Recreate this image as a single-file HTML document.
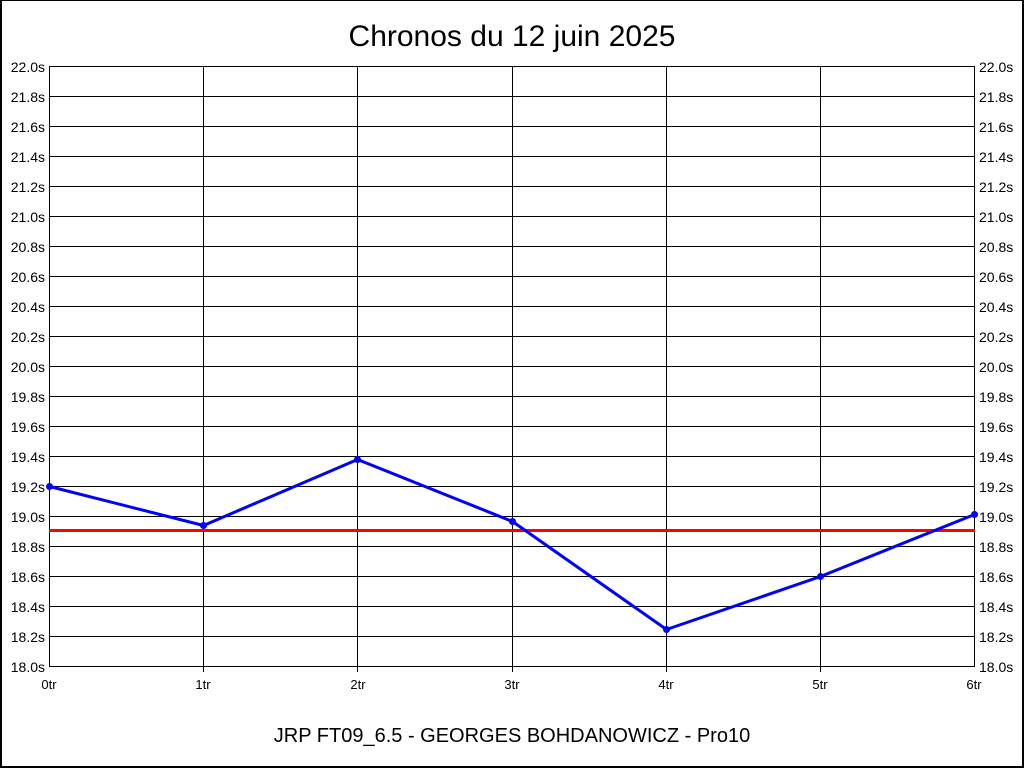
<!DOCTYPE html>
<html>
<head>
<meta charset="utf-8">
<style>
html,body{margin:0;padding:0;background:#fff;}
body{width:1024px;height:768px;overflow:hidden;}
svg{display:block;}
text{font-family:"Liberation Sans",Arial,sans-serif;fill:#000;}
</style>
</head>
<body>
<svg width="1024" height="768" viewBox="0 0 1024 768" xmlns="http://www.w3.org/2000/svg">
<rect x="0" y="0" width="1024" height="768" fill="#fff"/>
<!-- outer border -->
<rect x="0" y="0" width="1024" height="1" fill="#000"/>
<rect x="0" y="0" width="2" height="768" fill="#000"/>
<rect x="1022" y="0" width="2" height="768" fill="#000"/>
<rect x="0" y="766" width="1024" height="2" fill="#000"/>

<text x="512" y="46" font-size="30" text-anchor="middle">Chronos du 12 juin 2025</text>

<g stroke="#000" stroke-width="1" shape-rendering="crispEdges">
<line x1="49" y1="66.5" x2="975" y2="66.5"/>
<line x1="49" y1="96.5" x2="975" y2="96.5"/>
<line x1="49" y1="126.5" x2="975" y2="126.5"/>
<line x1="49" y1="156.5" x2="975" y2="156.5"/>
<line x1="49" y1="186.5" x2="975" y2="186.5"/>
<line x1="49" y1="216.5" x2="975" y2="216.5"/>
<line x1="49" y1="246.5" x2="975" y2="246.5"/>
<line x1="49" y1="276.5" x2="975" y2="276.5"/>
<line x1="49" y1="306.5" x2="975" y2="306.5"/>
<line x1="49" y1="336.5" x2="975" y2="336.5"/>
<line x1="49" y1="366.5" x2="975" y2="366.5"/>
<line x1="49" y1="396.5" x2="975" y2="396.5"/>
<line x1="49" y1="426.5" x2="975" y2="426.5"/>
<line x1="49" y1="456.5" x2="975" y2="456.5"/>
<line x1="49" y1="486.5" x2="975" y2="486.5"/>
<line x1="49" y1="516.5" x2="975" y2="516.5"/>
<line x1="49" y1="546.5" x2="975" y2="546.5"/>
<line x1="49" y1="576.5" x2="975" y2="576.5"/>
<line x1="49" y1="606.5" x2="975" y2="606.5"/>
<line x1="49" y1="636.5" x2="975" y2="636.5"/>
<line x1="49" y1="666.5" x2="975" y2="666.5"/>

<line x1="49.5" y1="66" x2="49.5" y2="667"/>
<line x1="203.5" y1="66" x2="203.5" y2="672"/>
<line x1="357.5" y1="66" x2="357.5" y2="672"/>
<line x1="512.5" y1="66" x2="512.5" y2="672"/>
<line x1="666.5" y1="66" x2="666.5" y2="672"/>
<line x1="820.5" y1="66" x2="820.5" y2="672"/>
<line x1="974.5" y1="66" x2="974.5" y2="667"/>
</g>

<g font-size="14" text-anchor="end">
<text x="45" y="72">22.0s</text>
<text x="45" y="102">21.8s</text>
<text x="45" y="132">21.6s</text>
<text x="45" y="162">21.4s</text>
<text x="45" y="192">21.2s</text>
<text x="45" y="222">21.0s</text>
<text x="45" y="252">20.8s</text>
<text x="45" y="282">20.6s</text>
<text x="45" y="312">20.4s</text>
<text x="45" y="342">20.2s</text>
<text x="45" y="372">20.0s</text>
<text x="45" y="402">19.8s</text>
<text x="45" y="432">19.6s</text>
<text x="45" y="462">19.4s</text>
<text x="45" y="492">19.2s</text>
<text x="45" y="522">19.0s</text>
<text x="45" y="552">18.8s</text>
<text x="45" y="582">18.6s</text>
<text x="45" y="612">18.4s</text>
<text x="45" y="642">18.2s</text>
<text x="45" y="672">18.0s</text>
</g>
<g font-size="14" text-anchor="start">
<text x="979" y="72">22.0s</text>
<text x="979" y="102">21.8s</text>
<text x="979" y="132">21.6s</text>
<text x="979" y="162">21.4s</text>
<text x="979" y="192">21.2s</text>
<text x="979" y="222">21.0s</text>
<text x="979" y="252">20.8s</text>
<text x="979" y="282">20.6s</text>
<text x="979" y="312">20.4s</text>
<text x="979" y="342">20.2s</text>
<text x="979" y="372">20.0s</text>
<text x="979" y="402">19.8s</text>
<text x="979" y="432">19.6s</text>
<text x="979" y="462">19.4s</text>
<text x="979" y="492">19.2s</text>
<text x="979" y="522">19.0s</text>
<text x="979" y="552">18.8s</text>
<text x="979" y="582">18.6s</text>
<text x="979" y="612">18.4s</text>
<text x="979" y="642">18.2s</text>
<text x="979" y="672">18.0s</text>
</g>

<g font-size="13" text-anchor="middle">
<text x="49" y="689">0tr</text>
<text x="203" y="689">1tr</text>
<text x="358" y="689">2tr</text>
<text x="512" y="689">3tr</text>
<text x="666" y="689">4tr</text>
<text x="820" y="689">5tr</text>
<text x="974" y="689">6tr</text>
</g>

<!-- average line -->
<rect x="49" y="529" width="926" height="3" fill="#ff0000"/>

<!-- series -->
<polyline fill="none" stroke="#0000ff" stroke-width="3" stroke-linejoin="round"
 points="49.5,486.5 203.5,525.5 357.5,459.5 512.5,521.5 666.5,629.5 820.5,576.5 974.5,514.5"/>
<g fill="#0000ff">
<circle cx="49.5" cy="486.5" r="3.5"/>
<circle cx="203.5" cy="525.5" r="3.5"/>
<circle cx="357.5" cy="459.5" r="3.5"/>
<circle cx="512.5" cy="521.5" r="3.5"/>
<circle cx="666.5" cy="629.5" r="3.5"/>
<circle cx="820.5" cy="576.5" r="3.5"/>
<circle cx="974.5" cy="514.5" r="3.5"/>
</g>

<text x="512" y="742" font-size="20" text-anchor="middle">JRP FT09_6.5 - GEORGES BOHDANOWICZ - Pro10</text>
</svg>
</body>
</html>
